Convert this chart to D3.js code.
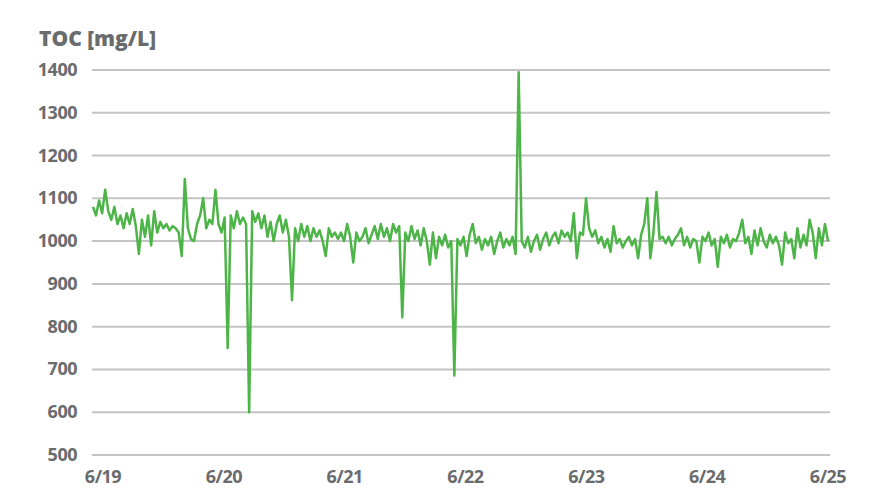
<!DOCTYPE html>
<html><head><meta charset="utf-8">
<script src="https://cdn.jsdelivr.net/npm/d3@7"></script>
<style>
html,body{margin:0;padding:0;background:#fff;}
text{font-family:"Open Sans",sans-serif;font-weight:bold;fill:#6a6b6d;}
</style></head>
<body><svg id="c" width="873" height="503"></svg>
<script>
const yTicks = [500,600,700,800,900,1000,1100,1200,1300,1400];
const xTickLabels = ["6/19","6/20","6/21","6/22","6/23","6/24","6/25"];
// samples every 36.5 minutes, starting 6/18 22:00 (t = days after 6/19 00:00)
const startDay = -1/12;
const stepMinutes = 36.5;
const day1 = [1080,1060,1095,1065,1120,1070,1050,1080,1040,1060,1030,1065,1040,1075,1035,970,1050,1010,1060,990,1070,1020,1045,1030,1040,1025,1035,1030,1020,965,1145,1030,1005,1000,1040,1060,1100,1030,1050,1040];
const day2 = [1120,1040,1020,1055,750,1060,1030,1070,1040,1055,1040,600,1070,1045,1065,1030,1060,1010,1045,1000,1040,1060,1020,1050,1010,862,1030,1000,1040,1010,1035,1000,1030,1010,1025,1000,965,1030,1010,1020];
const day3 = [1005,1020,1000,1040,1010,950,1020,1000,1010,1030,995,1015,1035,1005,1040,1010,1030,1000,1040,1020,1035,822,1020,1000,1035,1005,1025,990,1030,1000,945,1020,960,1010,990,1015,985,1000,686,1005];
const day4 = [990,1010,965,1015,1040,995,1010,980,1005,990,1010,970,1000,1020,985,1005,990,1010,970,1395,1000,985,1010,975,1000,1015,980,1005,1020,990,1010,1020,995,1025,1010,1020,1000,1065,960,1020];
const day5 = [1015,1100,1030,1010,1025,995,1010,985,1005,975,1035,995,1005,985,1000,1010,990,1005,960,1015,1040,1100,960,1020,1115,1005,1010,995,1010,990,1005,1015,1030,990,1010,985,1005,1000,950,1010];
const day6 = [1000,1020,990,1005,940,1010,995,1015,985,1005,1000,1020,1050,995,1010,970,1025,990,1030,1000,985,1015,995,1010,990,945,1020,995,1005,960,1030,985,1015,990,1050,1020,960,1030,990,1040];
const lastValue = [1000];

const values = [].concat(day1,day2,day3,day4,day5,day6,lastValue);
const data = values.map((v,i)=>({t:startDay + i*stepMinutes/1440, v}));

const svg = d3.select("#c");
const x = d3.scaleLinear().domain([0,6]).range([103,828]);
const y = d3.scaleLinear().domain([500,1400]).range([455,70]);

// grid
svg.append("g").selectAll("line").data(yTicks).join("line")
  .attr("x1",92).attr("x2",830)
  .attr("y1",d=>y(d)).attr("y2",d=>y(d))
  .attr("stroke","#c4c4c4").attr("stroke-width",2);

// y labels
svg.append("g").selectAll("text").data(yTicks).join("text")
  .attr("x",77).attr("y",d=>y(d)+6)
  .attr("text-anchor","end").attr("font-size",18)
  .attr("letter-spacing",-0.5)
  .text(d=>d);

// x labels
svg.append("g").selectAll("text").data(xTickLabels).join("text")
  .attr("x",(d,i)=>x(i)).attr("y",483)
  .attr("text-anchor","middle").attr("font-size",18)
  .attr("letter-spacing",-0.5)
  .text(d=>d);

// title
svg.append("text").attr("x",39).attr("y",46)
  .attr("font-size",21).style("font-weight",800)
  .text("TOC [mg/L]");

// line
svg.append("path").datum(data)
  .attr("fill","none").attr("stroke","#4db548").attr("stroke-width",2.5)
  .attr("stroke-linejoin","round")
  .attr("d", d3.line().x(d=>x(d.t)).y(d=>y(d.v)));
</script></body></html>
